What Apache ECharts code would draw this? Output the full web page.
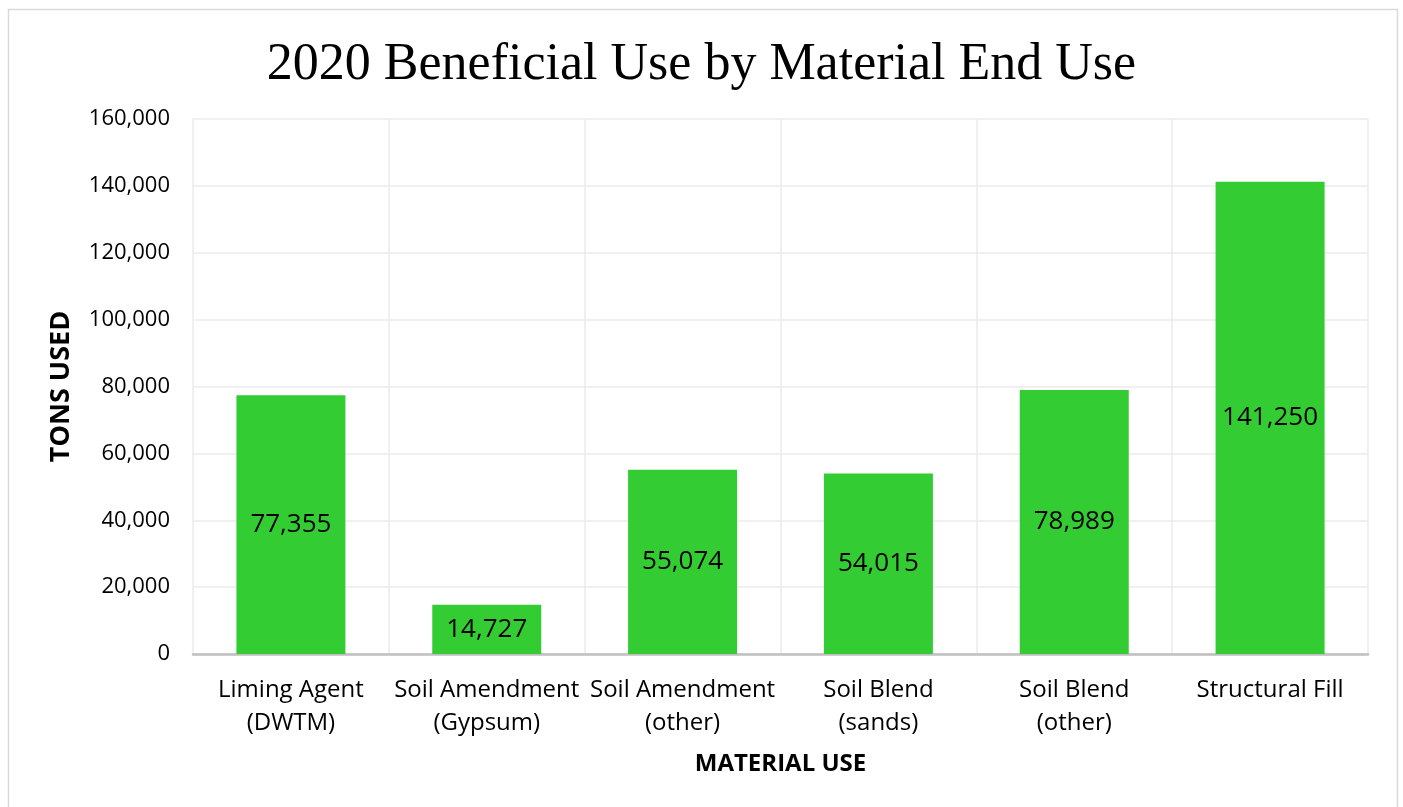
<!DOCTYPE html>
<html>
<head>
<meta charset="utf-8">
<script src="https://cdn.jsdelivr.net/npm/echarts@6/dist/echarts.min.js"></script>
<style>
html,body{margin:0;padding:0;background:#fff;}
#chart{width:1403px;height:807px;}
</style>
</head>
<body>
<div id="chart"></div>
<script>
const titleText = '2020 Beneficial Use by Material End Use';
const categories = ['Liming Agent\n(DWTM)', 'Soil Amendment\n(Gypsum)', 'Soil Amendment\n(other)', 'Soil Blend\n(sands)', 'Soil Blend\n(other)', 'Structural Fill'];
const tonsUsed = [77355, 14727, 55074, 54015, 78989, 141250];
const yAxisName = 'TONS USED';
const xAxisName = 'MATERIAL USE';

const fmt = v => Number(v).toLocaleString('en-US');
const font = '"Open Sans", sans-serif';

const chart = echarts.init(document.getElementById('chart'));
chart.setOption({
  animation: false,
  backgroundColor: '#fff',
  graphic: [{
    type: 'rect',
    shape: { x: 8.5, y: 9.5, width: 1389, height: 805 },
    style: { fill: 'none', stroke: '#d9d9d9', lineWidth: 1.5 },
    silent: true
  }],
  title: {
    text: titleText,
    left: 'center',
    top: 34,
    textStyle: { fontFamily: '"Liberation Serif", serif', fontSize: 52, fontWeight: 'normal', color: '#000' }
  },
  grid: { left: 193, right: 35, top: 119, bottom: 153 },
  xAxis: {
    type: 'category',
    data: categories,
    name: xAxisName,
    nameLocation: 'middle',
    nameGap: 98,
    nameTextStyle: { fontFamily: font, fontSize: 24, fontWeight: 'bold', color: '#000' },
    axisLine: { lineStyle: { color: '#bfbfbf', width: 2.5 } },
    axisTick: { show: false },
    axisLabel: { interval: 0, fontFamily: font, fontSize: 24, lineHeight: 33, color: '#000', margin: 20 },
    splitLine: { show: true, interval: 0, lineStyle: { color: '#ebebeb', width: 1.5 } }
  },
  yAxis: {
    type: 'value',
    min: 0,
    max: 160000,
    interval: 20000,
    name: yAxisName,
    nameLocation: 'middle',
    nameGap: 118,
    nameTextStyle: { fontFamily: font, fontSize: 27, fontWeight: 'bold', color: '#000' },
    axisLine: { show: false },
    axisTick: { show: false },
    axisLabel: { fontFamily: font, fontSize: 22, color: '#000', margin: 23, formatter: fmt },
    splitLine: { show: true, lineStyle: { color: '#ebebeb', width: 1.5 } }
  },
  series: [{
    type: 'bar',
    data: tonsUsed,
    barWidth: 109,
    itemStyle: { color: '#33cc33' },
    label: {
      show: true,
      position: 'inside',
      fontFamily: font,
      fontSize: 26,
      color: '#000',
      formatter: p => fmt(p.value)
    }
  }]
});
</script>
</body>
</html>
